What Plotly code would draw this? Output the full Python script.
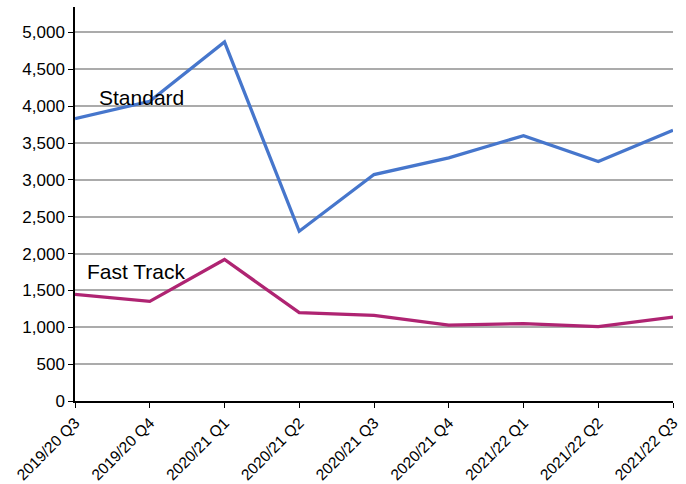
import plotly.graph_objects as go

quarters = ["2019/20 Q3", "2019/20 Q4", "2020/21 Q1", "2020/21 Q2", "2020/21 Q3",
            "2020/21 Q4", "2021/22 Q1", "2021/22 Q2", "2021/22 Q3"]
standard = [3831, 4065, 4870, 2303, 3072, 3298, 3600, 3248, 3672]
fast_track = [1446, 1351, 1920, 1198, 1161, 1030, 1049, 1008, 1138]
series_names = ["Standard", "Fast Track"]
y_ticks = [0, 500, 1000, 1500, 2000, 2500, 3000, 3500, 4000, 4500, 5000]

FONT = "Liberation Sans, Arial, sans-serif"
x_idx = list(range(len(quarters)))

fig = go.Figure()
fig.add_trace(go.Scatter(x=x_idx, y=standard, mode="lines", name=series_names[0],
                         line=dict(color="#4676CC", width=3.3)))
fig.add_trace(go.Scatter(x=x_idx, y=fast_track, mode="lines", name=series_names[1],
                         line=dict(color="#AF2472", width=3.3)))

fig.add_annotation(x=0.89, y=4122, xref="x", yref="y", text=series_names[0],
                   showarrow=False, font=dict(family=FONT, size=21, color="black"))
fig.add_annotation(x=0.82, y=1751, xref="x", yref="y", text=series_names[1],
                   showarrow=False, font=dict(family=FONT, size=21, color="black"))

fig.update_layout(
    width=686, height=484,
    margin=dict(l=75, r=13, t=7, b=83),
    paper_bgcolor="white", plot_bgcolor="white",
    showlegend=False,
    font=dict(family=FONT, color="black"),
)
fig.update_xaxes(
    tickmode="array", tickvals=x_idx, ticktext=quarters, tickangle=-45,
    range=[0, len(quarters) - 1], automargin=False,
    showgrid=False, zeroline=False,
    showline=True, linecolor="black", linewidth=1.5,
    ticks="outside", ticklen=5, tickcolor="black",
    tickfont=dict(family=FONT, size=15.5, color="black"),
)
fig.update_yaxes(
    range=[0, 5345], tickvals=y_ticks, tickformat=",d", automargin=False,
    showgrid=True, gridcolor="#ABABAB", gridwidth=1.5, zeroline=False,
    showline=True, linecolor="black", linewidth=1.5,
    ticks="outside", ticklen=5, tickcolor="black",
    tickfont=dict(family=FONT, size=17, color="black"),
)

fig.write_html("out.html", config={"displayModeBar": False},
               post_script="document.body.style.margin='0';")
